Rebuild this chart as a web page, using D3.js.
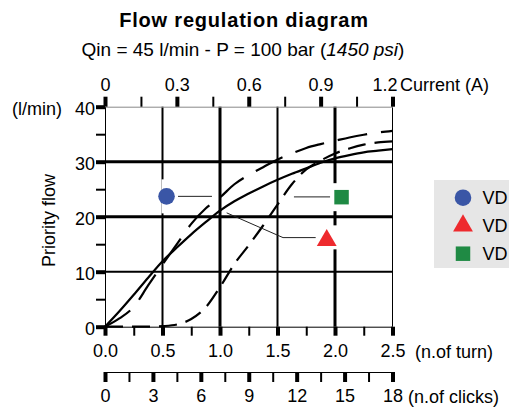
<!DOCTYPE html>
<html>
<head>
<meta charset="utf-8">
<script src="https://cdn.jsdelivr.net/npm/d3@7"></script>
<style>
body { margin: 0; background: #fff; overflow: hidden; }
svg { font-family: "Liberation Sans", Arial, sans-serif; display: block; }
</style>
</head>
<body>
<div id="chart"></div>
<script>
'use strict';

// curves, read at every 1/8 turn
var turns = [0, 0.125, 0.25, 0.375, 0.5, 0.625, 0.75, 0.875, 1, 1.125, 1.25, 1.375, 1.5, 1.625, 1.75, 1.875, 2, 2.125, 2.25, 2.375, 2.5];
var flowSolid = [0, 2.8, 5.8, 8.9, 11.9, 14.4, 16.8, 19.0, 21.1, 22.8, 24.2, 25.5, 26.7, 27.8, 28.8, 29.8, 30.6, 31.2, 31.7, 32.0, 32.3];
var flowLongDash = [0, 1.5, 3.6, 7.5, 11.3, 15.0, 18.7, 21.5, 23.5, 25.9, 27.6, 29.0, 30.4, 31.5, 32.5, 33.2, 33.8, 34.4, 34.9, 35.3, 35.6];
var flowShortDash = [0, 0, 0, 0, 0.1, 0.4, 1.4, 3.5, 7.2, 11.4, 14.8, 18.4, 22.2, 25.9, 28.6, 30.2, 31.5, 32.4, 33.1, 33.5, 33.7];

// axes
var turnTicks = [0, 0.25, 0.5, 0.75, 1, 1.25, 1.5, 1.75, 2, 2.25, 2.5];
var currentTicks = [0, 0.15, 0.3, 0.45, 0.6, 0.75, 0.9, 1.05, 1.2];
var clickTicks = [0, 1.5, 3, 4.5, 6, 7.5, 9, 10.5, 12, 13.5, 15, 16.5, 18];
var flowTicks = [0, 5, 10, 15, 20, 25, 30, 35, 40];
var gridTurns = [0.5, 1, 1.5, 2];
var gridFlows = [10, 20, 30];

// markers (one per curve) and their leader lines
// the legend names run off the right edge in the original, only "VD" is visible
var legendLabels = ['VD', 'VD', 'VD'];
var markerTurn = [0.535, 1.928, 2.057];
var markerFlow = [23.7, 15.7, 23.55];
var leaderLines = [
    [[0.635, 23.7], [0.93, 23.7]],
    [[1.832, 16.2], [1.548, 16.2], [1.058, 20.7]],
    [[1.957, 23.6], [1.643, 23.6]]
];

var W = 509, H = 407;
var symbols = [d3.symbolCircle, d3.symbolTriangle, d3.symbolSquare];
var symbolSizes = [216, 170, 210];
var colors = ['#3a56a6', '#ee2a2e', '#1f8a44'];

var svg = d3.select('#chart').append('svg').attr('width', W).attr('height', H);

var x = d3.scaleLinear().domain([0, 2.5]).range([105, 392.5]);
var y = d3.scaleLinear().domain([0, 40]).range([326.7, 106.7]);
var xCurrent = d3.scaleLinear().domain([0, 1.2]).range(x.range());
var xClicks = d3.scaleLinear().domain([0, 18]).range(x.range());

// titles
svg.append('text')
    .attr('x', 244).attr('y', 27)
    .attr('text-anchor', 'middle')
    .attr('font-size', 20).attr('font-weight', 'bold')
    .attr('letter-spacing', 0.8)
    .text('Flow regulation diagram');

var sub = svg.append('text')
    .attr('x', 243).attr('y', 56)
    .attr('text-anchor', 'middle')
    .attr('font-size', 19);
sub.append('tspan').text('Qin = 45 l/min - P = 100 bar (');
sub.append('tspan').attr('font-style', 'italic').text('1450 psi');
sub.append('tspan').text(')');

// grid
svg.append('g').selectAll('line')
    .data(gridTurns)
    .enter().append('line')
        .attr('x1', function(d) { return x(d); })
        .attr('x2', function(d) { return x(d); })
        .attr('y1', y(0)).attr('y2', y(40))
        .attr('stroke', '#000')
        .attr('stroke-width', function(d) { return d % 1 === 0 ? 3 : 2; });

svg.append('g').selectAll('line')
    .data(gridFlows)
    .enter().append('line')
        .attr('y1', function(d) { return y(d); })
        .attr('y2', function(d) { return y(d); })
        .attr('x1', x(0)).attr('x2', x(2.5))
        .attr('stroke', '#000')
        .attr('stroke-width', function(d) { return d >= 20 ? 3 : 2; });

// frame: thin right edge
svg.append('line')
    .attr('x1', x(2.5)).attr('x2', x(2.5))
    .attr('y1', y(0)).attr('y2', y(40))
    .attr('stroke', '#000').attr('stroke-width', 1);

// axes
function styleAxis(g, isMajor) {
    g.attr('font-size', 18).attr('font-family', null);
    g.select('.domain').attr('stroke-width', 1);
    g.selectAll('.tick line')
        .attr('stroke-width', function(d, i) { return isMajor(d, i) ? 4 : 2; });
    g.selectAll('.tick text').attr('fill', '#000');
}

var gTop = svg.append('g').attr('transform', 'translate(0,' + y(40) + ')')
    .call(d3.axisTop(xCurrent).tickValues(currentTicks).tickSize(10).tickSizeOuter(0).tickPadding(6)
        .tickFormat(function(d, i) { return i % 2 === 0 ? String(+d.toFixed(2)) : ''; }));
styleAxis(gTop, function(d, i) { return i % 2 === 0; });
gTop.select('.domain').attr('stroke', '#888');
gTop.selectAll('.tick text').filter(function(d) { return d === 1.2; }).attr('dx', -8);
gTop.append('text').attr('x', 400).attr('y', -16.2).attr('fill', '#000')
    .attr('text-anchor', 'start').text('Current (A)');

var gLeft = svg.append('g').attr('transform', 'translate(' + x(0) + ',0)')
    .call(d3.axisLeft(y).tickValues(flowTicks).tickSize(9).tickSizeOuter(0).tickPadding(1)
        .tickFormat(function(d) { return d % 10 === 0 ? d : ''; }));
styleAxis(gLeft, function(d) { return d % 10 === 0; });
gLeft.selectAll('.tick text').attr('dy', '0.45em');

var gBottom = svg.append('g').attr('transform', 'translate(0,' + y(0) + ')')
    .call(d3.axisBottom(x).tickValues(turnTicks).tickSize(9).tickSizeOuter(0).tickPadding(9)
        .tickFormat(function(d) { return (d * 2) % 1 === 0 ? d.toFixed(1) : ''; }));
styleAxis(gBottom, function(d) { return (d * 2) % 1 === 0; });
gBottom.append('text').attr('x', 415).attr('y', 31).attr('fill', '#000')
    .attr('text-anchor', 'start').text('(n.of turn)');

var gClicks = svg.append('g').attr('transform', 'translate(0,372)')
    .call(d3.axisBottom(xClicks).tickValues(clickTicks).tickSize(10).tickSizeOuter(0).tickPadding(7.5)
        .tickFormat(function(d) { return d % 3 === 0 ? d : ''; }));
styleAxis(gClicks, function(d) { return d % 3 === 0; });
gClicks.append('text').attr('x', 408).attr('y', 30.5).attr('fill', '#000')
    .attr('text-anchor', 'start').text('(n.of clicks)');

// axis titles on the left
svg.append('text').attr('x', 12).attr('y', 115).attr('font-size', 18).text('(l/min)');
svg.append('text')
    .attr('transform', 'translate(54.6,220.5) rotate(-90)')
    .attr('text-anchor', 'middle').attr('font-size', 18)
    .text('Priority flow');

// curves
var line = d3.line()
    .x(function(d, i) { return x(turns[i]); })
    .y(function(d) { return y(d); })
    .curve(d3.curveMonotoneX);

var series = [
    { values: flowSolid, dash: null },
    { values: flowLongDash, dash: '30,14' },
    { values: flowShortDash, dash: '18,9' }
];

svg.append('g').selectAll('path')
    .data(series)
    .enter().append('path')
        .attr('d', function(d) { return line(d.values); })
        .attr('fill', 'none')
        .attr('stroke', '#000')
        .attr('stroke-width', 2.2)
        .attr('stroke-dasharray', function(d) { return d.dash; });

// white gaps in the grid behind each marker
var haloHalf = [[5, 17], [11, 12], [9, 14]];
svg.append('g').selectAll('rect')
    .data(markerTurn)
    .enter().append('rect')
        .attr('x', function(d, i) { return x(d) - haloHalf[i][0]; })
        .attr('y', function(d, i) { return y(markerFlow[i]) - haloHalf[i][1] - (i === 1 ? 3 : 0); })
        .attr('width', function(d, i) { return haloHalf[i][0] * 2; })
        .attr('height', function(d, i) { return haloHalf[i][1] * 2; })
        .attr('fill', '#fff');

// leaders
var leader = d3.line()
    .x(function(d) { return x(d[0]); })
    .y(function(d) { return y(d[1]); });

svg.append('g').selectAll('path')
    .data(leaderLines)
    .enter().append('path')
        .attr('d', leader)
        .attr('fill', 'none')
        .attr('stroke', '#222')
        .attr('stroke-width', 1);

// markers
svg.append('g').selectAll('path')
    .data(markerTurn)
    .enter().append('path')
        .attr('transform', function(d, i) { return 'translate(' + x(d) + ',' + y(markerFlow[i]) + ')'; })
        .attr('d', function(d, i) { return d3.symbol().type(symbols[i]).size(symbolSizes[i])(); })
        .attr('fill', function(d, i) { return colors[i]; });

// legend
var legend = svg.append('g').attr('transform', 'translate(434,180)');
legend.append('rect').attr('width', 90).attr('height', 88).attr('fill', '#e6e6e6');

var item = legend.selectAll('g.item')
    .data(legendLabels)
    .enter().append('g')
        .attr('class', 'item')
        .attr('transform', function(d, i) { return 'translate(29,' + (17.7 + i * 28) + ')'; });

item.append('path')
    .attr('d', function(d, i) { return d3.symbol().type(symbols[i]).size(symbolSizes[i])(); })
    .attr('fill', function(d, i) { return colors[i]; });

item.append('text')
    .attr('x', 19.5).attr('y', 6.5)
    .attr('font-size', 18)
    .text(function(d) { return d; });
</script>
</body>
</html>
